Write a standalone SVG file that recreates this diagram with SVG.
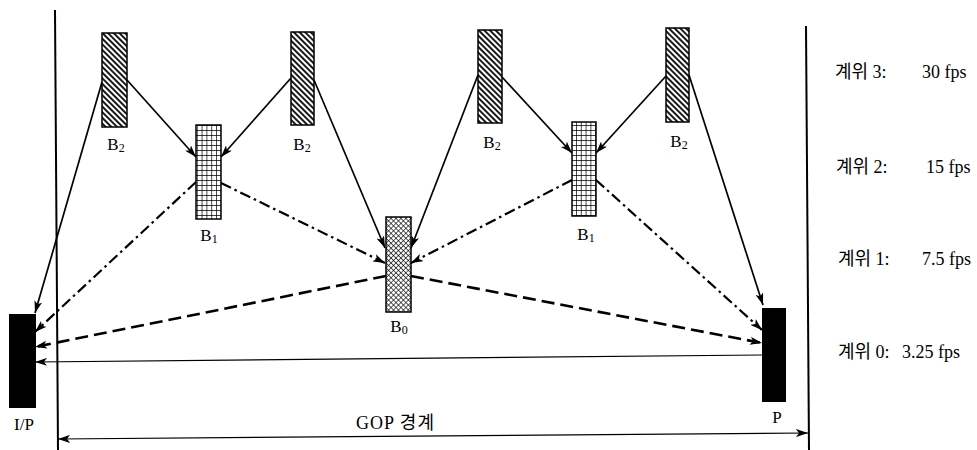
<svg xmlns="http://www.w3.org/2000/svg" width="977" height="450" viewBox="0 0 977 450">
<style>
text{font-family:"Liberation Serif","Noto Sans CJK KR",serif;fill:#000}
.lbl{font-size:17px;text-anchor:middle}
.sub{font-size:12px}
.lvl{font-size:18px}
.frame{stroke:#000;stroke-width:1.5}
.l3{stroke:#000;stroke-width:1.7;fill:none;marker-end:url(#ah)}
.l2{stroke:#000;stroke-width:2.2;fill:none;stroke-dasharray:11 4 2.5 4;marker-end:url(#ah)}
.l1{stroke:#000;stroke-width:2.6;fill:none;stroke-dasharray:13 6;marker-end:url(#ah)}
.l0{stroke:#000;stroke-width:1.2;fill:none;marker-end:url(#ah)}
.bound{stroke:#000;stroke-width:2;fill:none}
</style>
<defs>
<marker id="ah" viewBox="0 0 12 8" refX="12" refY="4" markerWidth="12" markerHeight="8" markerUnits="userSpaceOnUse" orient="auto">
<path d="M0,0 L12,4 L0,8 L3,4 Z" fill="#000"/>
</marker>
<marker id="ahs" viewBox="0 0 12 8" refX="0" refY="4" markerWidth="12" markerHeight="8" markerUnits="userSpaceOnUse" orient="auto">
<path d="M12,0 L0,4 L12,8 L9,4 Z" fill="#000"/>
</marker>
<pattern id="hatch" width="4" height="4" patternUnits="userSpaceOnUse" patternTransform="rotate(-45)">
<rect width="4" height="4" fill="#fff"/>
<line x1="1" y1="0" x2="1" y2="4" stroke="#000" stroke-width="1.8"/>
</pattern>
<pattern id="grid" width="4.8" height="5" patternUnits="userSpaceOnUse">
<rect width="4.8" height="5" fill="#fff"/>
<path d="M0,0 H4.8 M0,0 V5" stroke="#000" stroke-width="1.4"/>
</pattern>
<pattern id="cross" width="3.5" height="3.5" patternUnits="userSpaceOnUse" patternTransform="rotate(45)">
<rect width="3.5" height="3.5" fill="#fff"/>
<path d="M0,0 H3.5 M0,0 V3.5" stroke="#000" stroke-width="1.2"/>
</pattern>
</defs>

<g id="boundaries">
<line class="bound" x1="55" y1="10" x2="58" y2="450"/>
<line class="bound" x1="806" y1="26" x2="809" y2="450"/>
</g>

<g id="connectors">
<line class="l3" x1="127" y1="80" x2="196" y2="157"/>
<line class="l3" x1="102" y1="82" x2="35" y2="313"/>
<line class="l3" x1="291" y1="78" x2="221" y2="157"/>
<line class="l3" x1="314" y1="80" x2="385" y2="248"/>
<line class="l3" x1="478" y1="75" x2="411" y2="248"/>
<line class="l3" x1="502" y1="77" x2="572" y2="153"/>
<line class="l3" x1="666" y1="76" x2="596" y2="153"/>
<line class="l3" x1="689" y1="75" x2="763" y2="305"/>
<line class="l2" x1="196" y1="182" x2="35" y2="332"/>
<line class="l2" x1="221" y1="183" x2="385" y2="263"/>
<line class="l2" x1="572" y1="180" x2="411" y2="263"/>
<line class="l2" x1="596" y1="180" x2="762" y2="330"/>
<line class="l1" x1="386" y1="276" x2="35" y2="347"/>
<line class="l1" x1="411" y1="276" x2="762" y2="343"/>
<line class="l0" x1="762" y1="355" x2="35" y2="362"/>
<line stroke="#000" stroke-width="1.2" x1="58" y1="439" x2="808" y2="433" marker-start="url(#ahs)" marker-end="url(#ah)"/>
</g>

<g id="node-IP">
<rect x="9" y="314" width="27" height="94" fill="#000"/>
<text class="lbl" x="24" y="430">I/P</text>
</g>
<g id="node-P">
<rect x="762" y="308" width="24" height="94" fill="#000"/>
<text class="lbl" x="777" y="423">P</text>
</g>

<g id="node-B2a">
<rect class="frame" x="102" y="33" width="25" height="94" fill="url(#hatch)"/>
<text class="lbl" x="116" y="150">B<tspan class="sub" dy="2">2</tspan></text>
</g>
<g id="node-B2b">
<rect class="frame" x="291" y="32" width="23" height="93" fill="url(#hatch)"/>
<text class="lbl" x="302" y="150">B<tspan class="sub" dy="2">2</tspan></text>
</g>
<g id="node-B2c">
<rect class="frame" x="478" y="30" width="24" height="93" fill="url(#hatch)"/>
<text class="lbl" x="492" y="148">B<tspan class="sub" dy="2">2</tspan></text>
</g>
<g id="node-B2d">
<rect class="frame" x="666" y="28" width="23" height="94" fill="url(#hatch)"/>
<text class="lbl" x="679" y="147">B<tspan class="sub" dy="2">2</tspan></text>
</g>

<g id="node-B1a">
<rect class="frame" x="196" y="125" width="25" height="94" fill="url(#grid)"/>
<text class="lbl" x="209" y="241">B<tspan class="sub" dy="2">1</tspan></text>
</g>
<g id="node-B1b">
<rect class="frame" x="572" y="122" width="24" height="94" fill="url(#grid)"/>
<text class="lbl" x="586" y="240">B<tspan class="sub" dy="2">1</tspan></text>
</g>

<g id="node-B0">
<rect class="frame" x="386" y="217" width="25" height="95" fill="url(#cross)"/>
<text class="lbl" x="399" y="332">B<tspan class="sub" dy="2">0</tspan></text>
</g>

<g id="gop-label">
<text style="font-size:18px;letter-spacing:1px" x="356" y="429">GOP 경계</text>
</g>

<g id="levels">
<text class="lvl" y="78"><tspan x="835">계위 3:</tspan><tspan x="922">30 fps</tspan></text>
<text class="lvl" y="173"><tspan x="836">계위 2:</tspan><tspan x="926">15 fps</tspan></text>
<text class="lvl" y="265"><tspan x="838">계위 1:</tspan><tspan x="922">7.5 fps</tspan></text>
<text class="lvl" y="358"><tspan x="838">계위 0:</tspan><tspan x="902">3.25 fps</tspan></text>
</g>
</svg>
